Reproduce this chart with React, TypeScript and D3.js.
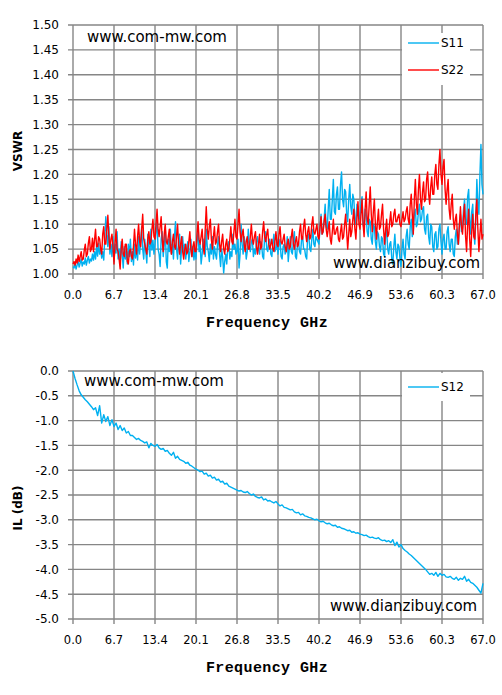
import React from "react";
import * as d3 from "d3";

// ---------------- DATA ----------------
const F_MAX = 67.0; // GHz, sweep 0 .. 67 GHz, evenly spaced samples
const X_TICKS = [0.0, 6.7, 13.4, 20.1, 26.8, 33.5, 40.2, 46.9, 53.6, 60.3, 67.0];
const VSWR_TICKS = [1.0, 1.05, 1.1, 1.15, 1.2, 1.25, 1.3, 1.35, 1.4, 1.45, 1.5];
const IL_TICKS = [0, -0.5, -1.0, -1.5, -2.0, -2.5, -3.0, -3.5, -4.0, -4.5, -5.0];

const S11 = [
  1.015,1.012,1.020,1.010,1.018,1.025,1.014,1.022,1.030,1.016,1.024,1.020,1.032,1.018,1.028,1.035,1.022,1.030,1.026,1.040,
  1.028,1.045,1.030,1.055,1.036,1.062,1.040,1.050,1.032,1.045,1.028,1.070,1.115,1.080,1.055,1.095,1.040,1.060,1.035,1.075,
  1.025,1.060,1.042,1.085,1.030,1.050,1.022,1.065,1.040,1.012,1.055,1.030,1.048,1.020,1.060,1.035,1.070,1.025,1.045,1.018,
  1.060,1.032,1.050,1.028,1.075,1.040,1.065,1.095,1.050,1.030,1.070,1.045,1.022,1.080,1.055,1.035,1.090,1.048,1.068,1.040,
  1.060,1.085,1.105,1.050,1.040,1.015,1.070,1.085,1.035,1.060,1.095,1.025,1.012,1.070,1.045,1.090,1.040,1.060,1.030,1.075,
  1.105,1.050,1.030,1.065,1.080,1.020,1.055,1.075,1.040,1.060,1.030,1.050,1.065,1.025,1.045,1.070,1.035,1.055,1.028,1.050,
  1.030,1.065,1.085,1.045,1.060,1.020,1.040,1.070,1.050,1.035,1.090,1.055,1.045,1.025,1.060,1.040,1.075,1.030,1.055,1.040,
  1.030,1.060,1.075,1.040,1.015,1.050,1.035,1.002,1.025,1.040,1.020,1.055,1.065,1.030,1.045,1.035,1.080,1.050,1.060,1.040,
  1.045,1.070,1.012,1.040,1.100,1.060,1.040,1.075,1.060,1.030,1.045,1.090,1.055,1.045,1.065,1.070,1.035,1.050,1.040,1.065,
  1.075,1.050,1.040,1.065,1.060,1.035,1.030,1.080,1.085,1.050,1.045,1.065,1.070,1.040,1.035,1.060,1.080,1.045,1.050,1.070,
  1.040,1.060,1.070,1.035,1.030,1.055,1.060,1.040,1.045,1.075,1.025,1.050,1.075,1.045,1.040,1.065,1.085,1.035,1.030,1.060,
  1.065,1.045,1.040,1.070,1.075,1.050,1.050,1.035,1.030,1.080,1.080,1.050,1.045,1.070,1.090,1.060,1.055,1.075,1.070,1.065,
  1.060,1.095,1.120,1.080,1.085,1.110,1.140,1.095,1.090,1.130,1.170,1.110,1.110,1.150,1.190,1.125,1.120,1.160,1.175,1.130,
  1.130,1.180,1.205,1.150,1.135,1.170,1.165,1.120,1.105,1.150,1.180,1.135,1.120,1.160,1.150,1.110,1.100,1.140,1.135,1.115,
  1.110,1.145,1.155,1.100,1.090,1.130,1.120,1.085,1.075,1.110,1.105,1.070,1.060,1.100,1.095,1.065,1.050,1.085,1.080,1.055,
  1.045,1.075,1.070,1.040,1.035,1.080,1.090,1.050,1.040,1.060,1.065,1.030,1.020,1.055,1.080,1.045,1.030,1.060,1.055,1.030,
  1.015,1.050,1.070,1.040,1.030,1.075,1.090,1.060,1.050,1.095,1.110,1.075,1.085,1.120,1.130,1.095,1.100,1.125,1.140,1.105,
  1.110,1.130,1.135,1.090,1.080,1.115,1.120,1.075,1.060,1.100,1.095,1.055,1.045,1.080,1.085,1.050,1.055,1.090,1.100,1.065,
  1.040,1.070,1.080,1.050,1.050,1.085,1.095,1.060,1.045,1.070,1.070,1.040,1.035,1.075,1.090,1.060,1.060,1.100,1.120,1.085,
  1.090,1.130,1.150,1.100,1.100,1.155,1.170,1.110,1.080,1.125,1.140,1.085,1.060,1.110,1.190,1.140,1.120,1.200,1.260,1.180,
  1.160,
];

const S22 = [
  1.020,1.025,1.018,1.030,1.022,1.038,1.025,1.035,1.045,1.028,1.030,1.048,1.060,1.035,1.040,1.062,1.075,1.045,1.050,1.072,
  1.045,1.068,1.090,1.055,1.055,1.075,1.070,1.050,1.040,1.080,1.095,1.060,1.060,1.090,1.118,1.075,1.050,1.070,1.080,1.055,
  1.020,1.060,1.090,1.050,1.045,1.030,1.010,1.050,1.070,1.040,1.035,1.060,1.060,1.025,1.020,1.045,1.050,1.035,1.030,1.055,
  1.090,1.060,1.040,1.075,1.100,1.065,1.055,1.090,1.120,1.070,1.060,1.050,1.040,1.070,1.085,1.060,1.065,1.090,1.110,1.075,
  1.070,1.100,1.130,1.090,1.075,1.095,1.115,1.070,1.045,1.080,1.100,1.065,1.060,1.075,1.090,1.055,1.040,1.065,1.080,1.055,
  1.050,1.075,1.100,1.060,1.040,1.060,1.075,1.045,1.030,1.050,1.060,1.040,1.045,1.065,1.085,1.050,1.035,1.055,1.065,1.045,
  1.045,1.080,1.105,1.070,1.060,1.075,1.090,1.055,1.040,1.090,1.135,1.090,1.070,1.095,1.110,1.070,1.050,1.075,1.095,1.060,
  1.065,1.085,1.100,1.060,1.045,1.065,1.080,1.050,1.040,1.060,1.070,1.045,1.050,1.070,1.095,1.065,1.060,1.085,1.110,1.075,
  1.070,1.100,1.130,1.085,1.065,1.080,1.090,1.060,1.045,1.065,1.075,1.050,1.050,1.075,1.100,1.070,1.060,1.075,1.085,1.055,
  1.040,1.060,1.080,1.050,1.055,1.085,1.105,1.075,1.065,1.080,1.090,1.060,1.050,1.060,1.070,1.050,1.045,1.065,1.085,1.060,
  1.055,1.080,1.095,1.065,1.060,1.070,1.080,1.055,1.045,1.060,1.070,1.050,1.055,1.075,1.090,1.060,1.050,1.065,1.075,1.055,
  1.060,1.085,1.100,1.070,1.070,1.095,1.110,1.080,1.065,1.085,1.095,1.070,1.075,1.100,1.115,1.085,1.080,1.090,1.100,1.075,
  1.070,1.095,1.115,1.080,1.085,1.105,1.120,1.090,1.075,1.090,1.105,1.070,1.060,1.085,1.110,1.080,1.080,1.090,1.095,1.070,
  1.065,1.085,1.100,1.070,1.075,1.100,1.120,1.085,1.050,1.080,1.110,1.075,1.085,1.110,1.130,1.090,1.070,1.110,1.145,1.100,
  1.090,1.120,1.150,1.100,1.075,1.130,1.165,1.110,1.100,1.140,1.175,1.120,1.085,1.125,1.150,1.100,1.070,1.105,1.130,1.090,
  1.095,1.120,1.140,1.090,1.060,1.090,1.110,1.075,1.080,1.105,1.125,1.095,1.100,1.120,1.130,1.105,1.105,1.115,1.120,1.100,
  1.095,1.110,1.125,1.105,1.110,1.125,1.135,1.110,1.100,1.140,1.160,1.120,1.080,1.150,1.190,1.140,1.120,1.170,1.200,1.150,
  1.130,1.165,1.185,1.145,1.150,1.190,1.205,1.160,1.140,1.175,1.195,1.160,1.160,1.200,1.220,1.180,1.170,1.220,1.250,1.200,
  1.180,1.215,1.230,1.170,1.140,1.170,1.190,1.130,1.110,1.140,1.160,1.110,1.090,1.110,1.120,1.080,1.060,1.100,1.135,1.095,
  1.080,1.115,1.140,1.075,1.045,1.100,1.130,1.070,1.035,1.085,1.120,1.075,1.070,1.120,1.150,1.090,1.045,1.080,1.110,1.070,
  1.080,
];

const S12 = [
  0.0, -0.15, -0.28, -0.4, -0.48, -0.53, -0.58, -0.62, -0.67, -0.72,
  -0.78, -0.74, -0.9, -0.7, -1.05, -0.88, -1.02, -0.92, -1.1, -0.98,
  -1.12, -1.05, -1.18, -1.1, -1.2, -1.15, -1.25, -1.22, -1.3, -1.3,
  -1.34, -1.38, -1.36, -1.4, -1.42, -1.45, -1.43, -1.55, -1.46, -1.5,
  -1.52, -1.48, -1.55, -1.58, -1.56, -1.62, -1.6, -1.66, -1.7, -1.64,
  -1.76, -1.72, -1.78, -1.8, -1.82, -1.86, -1.84, -1.9, -1.92, -1.95,
  -1.98, -2.0, -2.03, -2.02, -2.08, -2.06, -2.12, -2.1, -2.16, -2.14,
  -2.2, -2.18, -2.24, -2.22, -2.28, -2.26, -2.32, -2.34, -2.36, -2.38,
  -2.4, -2.42, -2.41, -2.44, -2.45, -2.43, -2.47, -2.5, -2.48, -2.53,
  -2.55, -2.56, -2.54, -2.6, -2.58, -2.62, -2.61, -2.64, -2.66, -2.63,
  -2.68, -2.72, -2.7, -2.75, -2.76, -2.78, -2.8, -2.79, -2.84, -2.86,
  -2.85, -2.9, -2.88, -2.92, -2.93, -2.95, -2.96, -2.98, -3.0, -2.99,
  -3.02, -3.04, -3.03, -3.06, -3.08, -3.07, -3.1, -3.12, -3.11, -3.15,
  -3.14, -3.17, -3.18, -3.2, -3.22, -3.21, -3.25, -3.24, -3.27, -3.26,
  -3.29, -3.3, -3.32, -3.31, -3.34, -3.36, -3.35, -3.37, -3.38, -3.36,
  -3.4, -3.42, -3.41, -3.44, -3.42, -3.46, -3.4, -3.52, -3.45, -3.55,
  -3.5, -3.58, -3.62, -3.65, -3.69, -3.72, -3.76, -3.8, -3.84, -3.88,
  -3.92, -3.96, -4.0, -4.05, -4.1, -4.08, -4.12, -4.06, -4.14, -4.08,
  -4.12, -4.1, -4.15, -4.16, -4.14, -4.18, -4.2, -4.16, -4.22, -4.18,
  -4.2, -4.14, -4.24, -4.2, -4.26, -4.28, -4.32, -4.36, -4.42, -4.48,
  -4.28,
];

// ---------------- STYLE ----------------
const GRID = "#868686";
const BLUE = "#00B0F0";
const RED = "#FF0000";
const SANS = "'DejaVu Sans', Verdana, sans-serif";
const MONO = "'Liberation Mono', 'Courier New', monospace";

type Series = { name: string; values: number[]; color: string };

type PanelProps = {
  top: number;
  bottom: number;
  domain: [number, number];
  ticks: number[];
  fmt: (v: number) => string;
  yTitle: string;
  yTitleY: number;
  series: Series[];
  legendBox: { x: number; y: number; w: number; h: number };
  legendRows: number[];
  wm1: { x: number; y: number };
  wm2: { x: number; y: number };
};

const LEFT = 73;
const RIGHT = 483;

function Panel(p: PanelProps) {
  const x = d3.scaleLinear().domain([0, F_MAX]).range([LEFT, RIGHT]);
  const y = d3.scaleLinear().domain(p.domain).range([p.bottom, p.top]);
  const makeLine = (n: number) =>
    d3
      .line<number>()
      .x((_, i) => x((i * F_MAX) / (n - 1)))
      .y((v) => y(v));
  return (
    <g>
      {p.ticks.map((t, i) => (
        <line key={"h" + i} x1={LEFT - 5} x2={RIGHT} y1={y(t)} y2={y(t)} stroke={GRID} strokeWidth={1.4} />
      ))}
      {X_TICKS.map((t, i) => (
        <line key={"v" + i} x1={x(t)} x2={x(t)} y1={p.top} y2={p.bottom + 5} stroke={GRID} strokeWidth={1.4} />
      ))}
      {p.ticks.map((t, i) => (
        <text key={"yl" + i} x={59} y={y(t)} dy="0.36em" textAnchor="end" fontFamily={SANS} fontSize={12} fill="#000">
          {p.fmt(t)}
        </text>
      ))}
      {X_TICKS.map((t, i) => (
        <text key={"xl" + i} x={x(t)} y={p.bottom + 25} textAnchor="middle" fontFamily={SANS} fontSize={11.5} fill="#000">
          {t.toFixed(1)}
        </text>
      ))}
      <text
        transform={`translate(22,${p.yTitleY}) rotate(-90)`}
        textAnchor="middle"
        fontFamily={SANS}
        fontWeight="bold"
        fontSize={12}
        fill="#000"
      >
        {p.yTitle}
      </text>
      <text
        x={267}
        y={p.bottom + 53}
        textAnchor="middle"
        fontFamily={MONO}
        fontWeight="bold"
        fontSize={15}
        letterSpacing={0.4}
        fill="#000"
      >
        Frequency GHz
      </text>
      {p.series.map((s) => (
        <path
          key={s.name}
          d={makeLine(s.values.length)(s.values) || ""}
          fill="none"
          stroke={s.color}
          strokeWidth={1.4}
          strokeLinejoin="round"
        />
      ))}
      <rect x={p.legendBox.x} y={p.legendBox.y} width={p.legendBox.w} height={p.legendBox.h} fill="#fff" />
      {p.series.map((s, i) => (
        <g key={"lg" + s.name}>
          <line x1={408} x2={439} y1={p.legendRows[i]} y2={p.legendRows[i]} stroke={s.color} strokeWidth={1.4} />
          <text x={441} y={p.legendRows[i]} dy="0.36em" fontFamily={SANS} fontSize={12} fill="#000">
            {s.name}
          </text>
        </g>
      ))}
      <text x={p.wm1.x} y={p.wm1.y} dy="0.36em" fontFamily={SANS} fontSize={15} fill="#000">
        www.com-mw.com
      </text>
      <text x={p.wm2.x} y={p.wm2.y} dy="0.36em" fontFamily={SANS} fontSize={15} fill="#000">
        www.dianzibuy.com
      </text>
    </g>
  );
}

export default function App() {
  return (
    <svg width={502} height={695} style={{ position: "absolute", left: 0, top: 0, background: "#fff" }}>
      <rect x={0} y={0} width={502} height={695} fill="#fff" />
      <Panel
        top={25}
        bottom={274}
        domain={[1.0, 1.5]}
        ticks={VSWR_TICKS}
        fmt={(v) => v.toFixed(2)}
        yTitle="VSWR"
        yTitleY={151}
        series={[
          { name: "S11", values: S11, color: BLUE },
          { name: "S22", values: S22, color: RED },
        ]}
        legendBox={{ x: 402, y: 33, w: 68, h: 52 }}
        legendRows={[43, 70]}
        wm1={{ x: 87, y: 37 }}
        wm2={{ x: 333, y: 263 }}
      />
      <Panel
        top={371}
        bottom={619}
        domain={[-5, 0]}
        ticks={IL_TICKS}
        fmt={(v) => v.toFixed(1)}
        yTitle="IL (dB)"
        yTitleY={508}
        series={[{ name: "S12", values: S12, color: BLUE }]}
        legendBox={{ x: 402, y: 373, w: 68, h: 28 }}
        legendRows={[387]}
        wm1={{ x: 84, y: 381 }}
        wm2={{ x: 330, y: 606 }}
      />
    </svg>
  );
}
